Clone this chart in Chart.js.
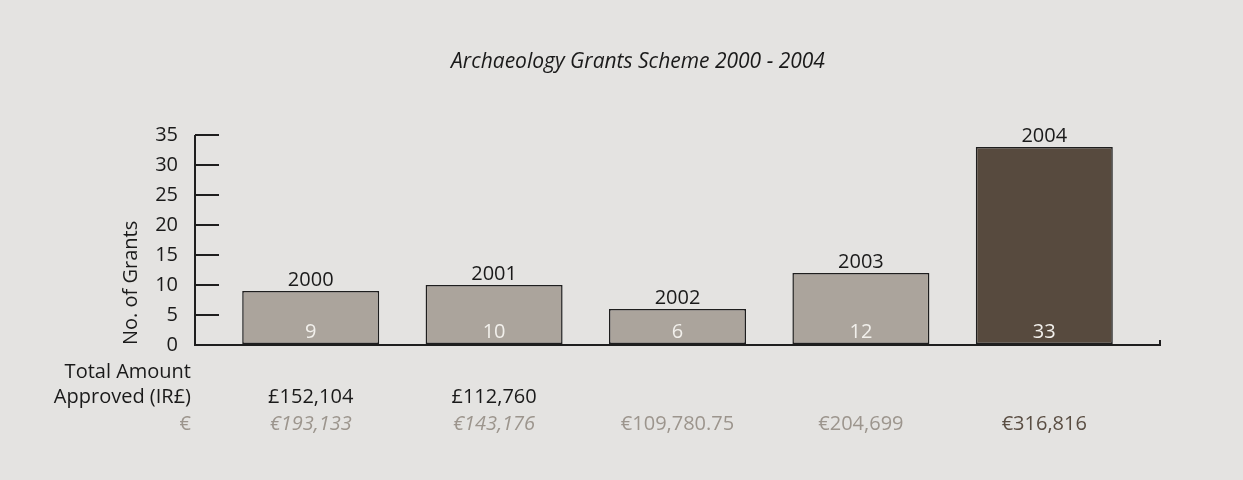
<!DOCTYPE html>
<html>
<head>
<meta charset="utf-8">
<script src="https://cdn.jsdelivr.net/npm/chart.js@4"></script>
<style>
  body { margin: 0; background: #e4e3e1; }
  #wrap { width: 1243px; height: 480px; position: relative; }
</style>
</head>
<body>
<div id="wrap"><canvas id="grants"></canvas></div>
<script>
// data
const years = ['2000', '2001', '2002', '2003', '2004'];
const grantCounts = [9, 10, 6, 12, 33];
const amountsIR = ['£152,104', '£112,760', '', '', ''];
const amountsEuro = ['€193,133', '€143,176', '€109,780.75', '€204,699', '€316,816'];
const yTicks = [0, 5, 10, 15, 20, 25, 30, 35];

// styles
const FONT = '"Open Sans", Lato, sans-serif';
const SIZE = 20;
const barColors = ['#aba49c', '#aba49c', '#aba49c', '#aba49c', '#574a3e'];
const euroColors = ['#9c958d', '#9c958d', '#9c958d', '#9c958d', '#5a4e43'];
const euroItalic = [true, true, false, false, false];

// axis lines, title, labels above/inside bars and the amounts table
const extrasPlugin = {
    id: 'extras',
    afterDraw(chart) {
        const c = chart.ctx;
        const area = chart.chartArea;
        const y = chart.scales.y;
        const axisX = area.left - 24;
        const base = y.getPixelForValue(0);

        c.save();
        c.strokeStyle = '#1e1e1e';
        c.lineWidth = 2;
        c.beginPath();
        c.moveTo(axisX, y.getPixelForValue(35));
        c.lineTo(axisX, base + 1);
        c.moveTo(axisX, base);
        c.lineTo(area.right + 24, base);
        c.lineTo(area.right + 24, base - 5);
        c.stroke();

        c.textAlign = 'center';
        c.textBaseline = 'middle';
        c.fillStyle = '#1a1a1a';
        c.font = 'italic 21px ' + FONT;
        c.fillText('Archaeology Grants Scheme 2000 - 2004', 638, 62);

        const meta = chart.getDatasetMeta(0);
        meta.data.forEach(function(bar, i) {
            c.font = SIZE + 'px ' + FONT;
            c.fillStyle = '#1a1a1a';
            c.textBaseline = 'bottom';
            c.fillText(years[i], bar.x, bar.y - 1);

            c.fillStyle = '#f2f0ec';
            c.textBaseline = 'alphabetic';
            c.fillText(String(grantCounts[i]), bar.x, base - 7);

            c.fillStyle = '#1a1a1a';
            c.textBaseline = 'middle';
            if (amountsIR[i]) c.fillText(amountsIR[i], bar.x, 397);

            c.font = (euroItalic[i] ? 'italic ' : '') + SIZE + 'px ' + FONT;
            c.fillStyle = euroColors[i];
            c.fillText(amountsEuro[i], bar.x, 424);
        });

        c.textAlign = 'right';
        c.font = SIZE + 'px ' + FONT;
        c.fillStyle = '#1a1a1a';
        c.fillText('Total Amount', 191, 372);
        c.fillText('Approved (IR£)', 191, 397);
        c.fillStyle = '#9c958d';
        c.fillText('€', 191, 424);
        c.restore();
    }
};

const ctx = document.getElementById('grants').getContext('2d');
const grantsChart = new Chart(ctx, {
    type: 'bar',
    data: {
        labels: years,
        datasets: [{
            label: 'No. of Grants',
            data: grantCounts,
            backgroundColor: barColors,
            borderColor: '#1e1e1e',
            borderWidth: 1.5,
            borderSkipped: false,
            barPercentage: 0.747,
            categoryPercentage: 1
        }]
    },
    options: {
        responsive: true,
        maintainAspectRatio: false,
        animation: false,
        layout: { padding: { left: 0, right: 107, top: 135, bottom: 135 } },
        plugins: {
            legend: { display: false },
            tooltip: { enabled: false },
            title: { display: false }
        },
        scales: {
            x: {
                display: false,
                offset: true
            },
            y: {
                min: 0,
                max: 35,
                afterFit: function(scale) { scale.width = 219; },
                afterBuildTicks: function(scale) {
                    scale.ticks = yTicks.map(v => ({ value: v }));
                },
                border: { display: false },
                grid: {
                    drawOnChartArea: false,
                    drawTicks: true,
                    tickLength: 24,
                    color: '#1e1e1e',
                    lineWidth: 2
                },
                ticks: {
                    color: '#1a1a1a',
                    padding: 17,
                    font: { family: FONT, size: SIZE }
                },
                title: {
                    display: true,
                    text: 'No. of Grants',
                    align: 'start',
                    color: '#1a1a1a',
                    font: { family: FONT, size: SIZE },
                    padding: { top: 119, bottom: 0 }
                }
            }
        }
    },
    plugins: [extrasPlugin]
});
</script>
</body>
</html>
